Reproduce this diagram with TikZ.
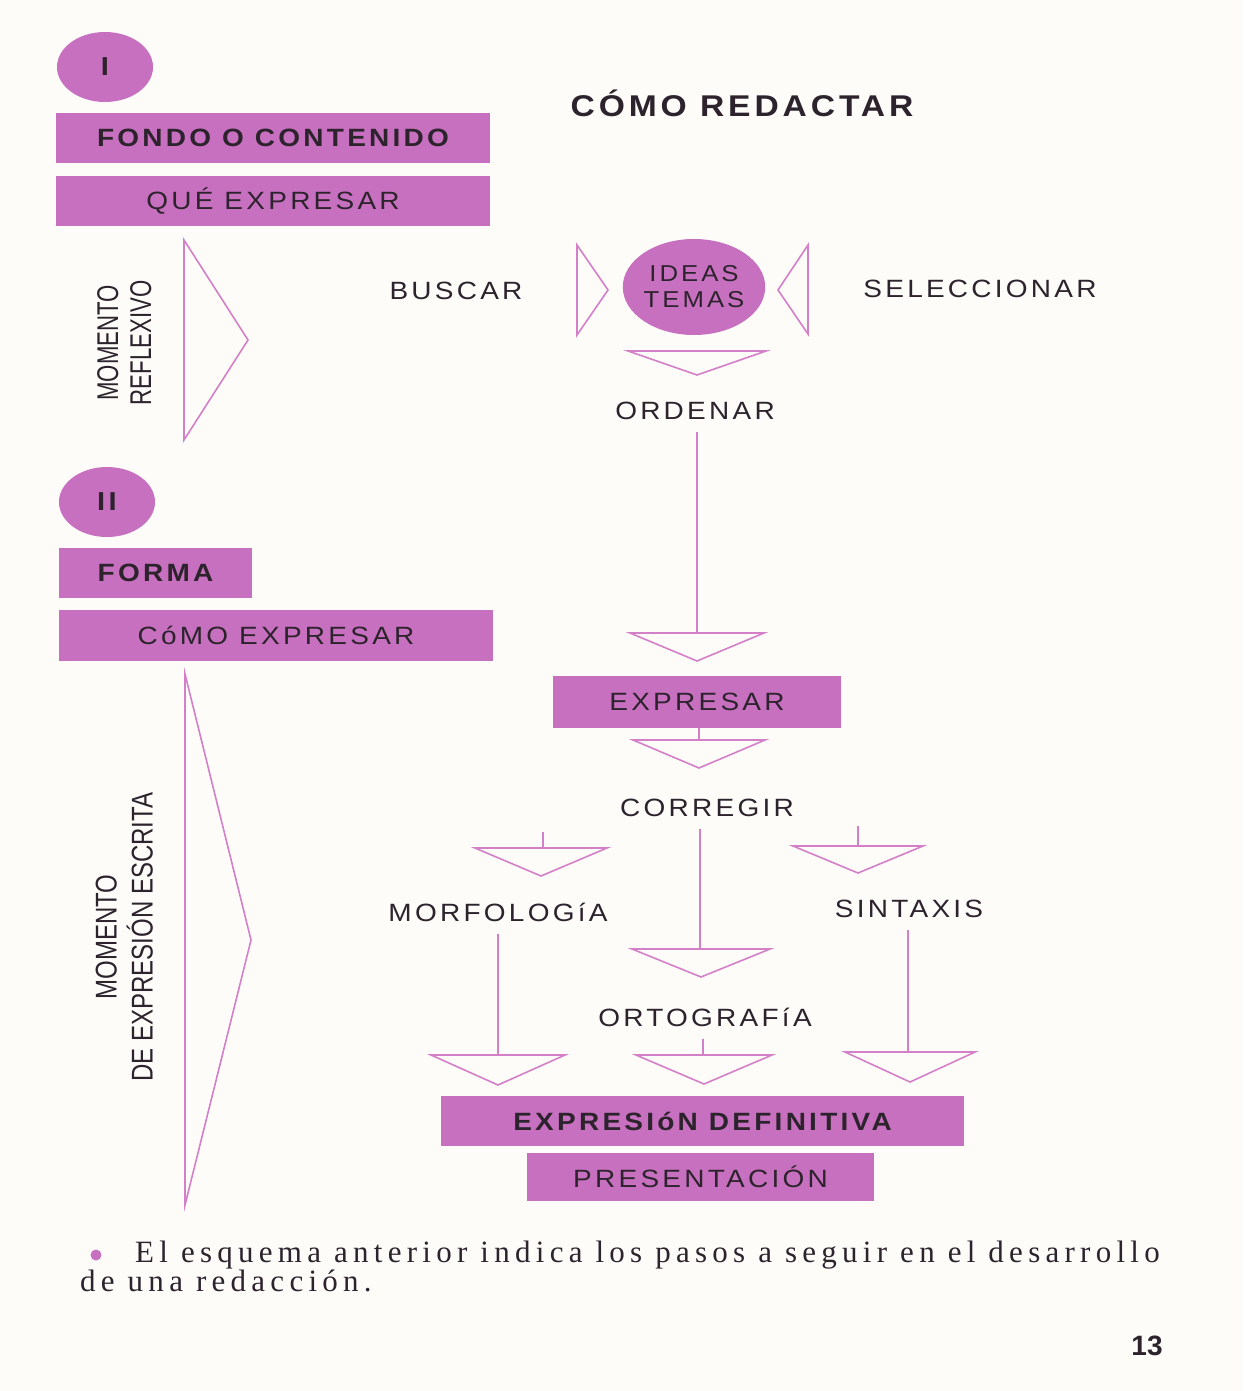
\documentclass[tikz,border=0pt]{standalone}
\usepackage{fontspec}
\setmainfont{Liberation Sans}
\newfontfamily\sansw[LetterSpace=13,FakeStretch=1.12]{Liberation Sans}
\newfontfamily\sansv{Liberation Sans}
\newfontfamily\serifw[LetterSpace=17]{Liberation Serif}
\usetikzlibrary{shapes.geometric}
\definecolor{mag}{RGB}{200,112,192}
\definecolor{lin}{RGB}{212,128,200}
\definecolor{ink}{RGB}{45,35,45}
\definecolor{paper}{RGB}{253,252,249}
\newcommand\dtri[4]{\draw[tri] ({#1-#3},#2) -- ({#1+#3},#2) -- (#1,{#2+#4}) -- cycle;}
\tikzset{
  box/.style={fill=mag, inner sep=0pt, text=ink},
  lbl/.style={text=ink, inner sep=2pt, font=\sansw\fontsize{25}{27}\selectfont},
  tri/.style={draw=lin, line width=1.6pt, line join=miter},
  conn/.style={draw=lin, line width=1.6pt},
  fromtext/.style={conn, shorten <=10pt},
  oval/.style={ellipse, fill=mag, inner sep=0pt, text=ink},
  vlbl/.style={rotate=90, text=ink, inner sep=0pt, font=\sansv\fontsize{30}{33}\selectfont}
}
\begin{document}
\begin{tikzpicture}[x=1pt,y=-1pt]
\useasboundingbox[fill=paper] (0,0) rectangle (1243,1391);

% Section I
\node[oval, minimum width=96pt, minimum height=70pt, font=\sansw\bfseries\fontsize{26}{28}\selectfont] (e1) at (105,67) {I};
\node[box, minimum width=434pt, minimum height=50pt, font=\sansw\bfseries\fontsize{25}{27}\selectfont] (fondo) at (273,138) {FONDO O CONTENIDO};
\node[box, minimum width=434pt, minimum height=49pt, font=\sansw\fontsize{25}{27}\selectfont] (que) at (273,201) {QUÉ EXPRESAR};
\node[text=ink, font=\sansw\bfseries\fontsize{30}{32}\selectfont] (title) at (742,103) {CÓMO REDACTAR};

\draw[tri] (184,240) -- (248,340) -- (184,440) -- cycle;
\node[vlbl] (refl) at (128,343) {\scalebox{0.74}[1]{\begin{tabular}{@{}c@{}}MOMENTO\\REFLEXIVO\end{tabular}}};

\node[lbl] (buscar) at (456,291) {BUSCAR};
\draw[tri] (577,245) -- (608,290) -- (577,335) -- cycle;
\node[oval, minimum width=130pt, minimum height=96pt, font=\sansw\fontsize{23}{26}\selectfont, align=center] (ideas) at (694,287) {IDEAS\\TEMAS};
\draw[tri] (808,245) -- (778,290) -- (808,334) -- cycle;
\node[lbl] (selec) at (980,289) {SELECCIONAR};

\dtri{697}{351}{69}{24}
\node[lbl] (ordenar) at (695,411) {ORDENAR};
\coordinate (tA) at (697,633);
\draw[fromtext] (tA |- ordenar.south) -- (tA);
\dtri{697}{633}{67}{28}

% Section II
\node[oval, minimum width=96pt, minimum height=70pt, font=\sansw\bfseries\fontsize{26}{28}\selectfont] (e2) at (107,502) {II};
\node[box, minimum width=193pt, minimum height=50pt, font=\sansw\bfseries\fontsize{25}{27}\selectfont] (forma) at (155.5,573) {FORMA};
\node[box, minimum width=434pt, minimum height=51pt, font=\sansw\fontsize{25}{27}\selectfont] (comoexp) at (276,635) {CóMO EXPRESAR};

\draw[tri] (185,674) -- (251,940) -- (185,1205) -- cycle;
\node[vlbl] (mom2) at (128,937) {\scalebox{0.8}[1]{\begin{tabular}{@{}c@{}}MOMENTO\\DE EXPRESIÓN ESCRITA\end{tabular}}};

\node[box, minimum width=288pt, minimum height=52pt, font=\sansw\fontsize{25}{27}\selectfont] (expresar) at (697,702) {EXPRESAR};
\coordinate (tB) at (699,740);
\draw[conn] (tB |- expresar.south) -- (tB);
\dtri{699}{740}{66}{28}

\node[lbl] (corregir) at (707,808) {CORREGIR};

\coordinate (sL) at (543,832);
\coordinate (tL) at (543,848);
\draw[conn] (sL) -- (tL);
\dtri{541}{848}{66}{28}

\coordinate (sR) at (858,826);
\coordinate (tR) at (858,846);
\draw[conn] (sR) -- (tR);
\dtri{858}{846}{65}{27}

\coordinate (tC) at (700,949);
\draw[fromtext] (tC |- corregir.south) -- (tC);
\dtri{701}{949}{69}{28}

\node[lbl] (morf) at (498,912) {MORFOLOGíA};
\node[lbl] (sint) at (909,909) {SINTAXIS};
\node[lbl] (orto) at (705,1017) {ORTOGRAFíA};

\coordinate (tM) at (498,1055);
\draw[fromtext] (tM |- morf.south) -- (tM);
\dtri{498}{1055}{67}{30}

\coordinate (tO) at (703,1055);
\draw[fromtext] (tO |- orto.south) -- (tO);
\dtri{704}{1055}{68}{29}

\coordinate (tS) at (908,1052);
\draw[fromtext] (tS |- sint.south) -- (tS);
\dtri{910}{1052}{65}{30}

\node[box, minimum width=523pt, minimum height=50pt, font=\sansw\bfseries\fontsize{25}{27}\selectfont] (expdef) at (702.5,1121) {EXPRESIóN DEFINITIVA};
\node[box, minimum width=347pt, minimum height=48pt, font=\sansw\fontsize{25}{27}\selectfont] (pres) at (700.5,1177) {PRESENTACIÓN};

% Caption
\node[circle, fill=mag, minimum size=11pt, inner sep=0pt] (dot) at (96,1255) {};
\node[anchor=north west, align=left, inner sep=0pt, text=ink, font=\serifw\fontsize{31}{28}\selectfont] (cap) at (80,1241) {\hspace{55pt}El esquema anterior indica los pasos a seguir en el desarrollo\\de una redacción.};
\node[text=ink, font=\sansv\bfseries\fontsize{28}{30}\selectfont] (page) at (1147,1346) {13};
\end{tikzpicture}
\end{document}
